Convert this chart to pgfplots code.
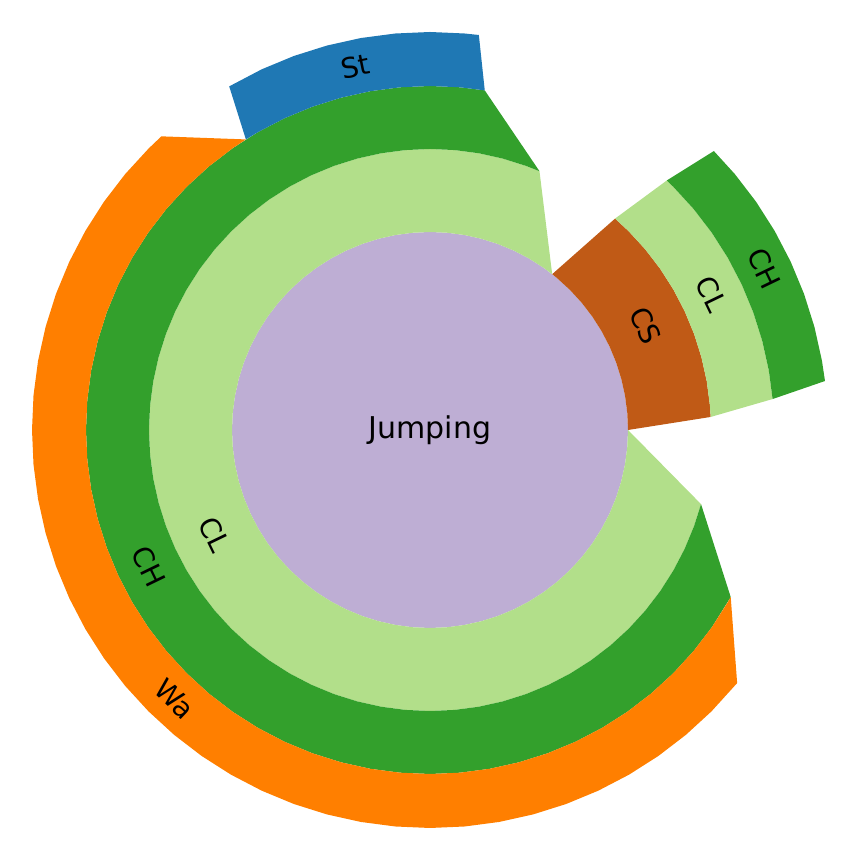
\documentclass[border=0pt]{standalone}
\usepackage{fontspec}
\setmainfont{DejaVu Sans}
\usepackage{pgfplots}
\pgfplotsset{compat=1.18}
\usepgfplotslibrary{polar}
\definecolor{cPurple}{HTML}{BEAED4}
\definecolor{cBrown}{HTML}{C05A16}
\definecolor{cLight}{HTML}{B2DF8A}
\definecolor{cGreen}{HTML}{33A02C}
\definecolor{cOrange}{HTML}{FF7F00}
\definecolor{cBlue}{HTML}{1F78B4}
\begin{document}
\begin{tikzpicture}
\begin{axis}[scale only axis, width=430pt, height=430pt,
  xmin=-430, xmax=430, ymin=-430, ymax=430,
  ticks=none, axis line style={draw=none}]
% level 0: Jumping
\addplot[data cs=polar, draw=none, fill=cPurple] coordinates {
(0,198)(5,198)(10,198)(15,198)(20,198)(25,198)(30,198)(35,198)(40,198)(45,198)(50,198)(55,198)(60,198)(65,198)(70,198)(75,198)(80,198)(85,198)(90,198)(95,198)(100,198)(105,198)(110,198)(115,198)(120,198)(125,198)(130,198)(135,198)(140,198)(145,198)(150,198)(155,198)(160,198)(165,198)(170,198)(175,198)(180,198)(185,198)(190,198)(195,198)(200,198)(205,198)(210,198)(215,198)(220,198)(225,198)(230,198)(235,198)(240,198)(245,198)(250,198)(255,198)(260,198)(265,198)(270,198)(275,198)(280,198)(285,198)(290,198)(295,198)(300,198)(305,198)(310,198)(315,198)(320,198)(325,198)(330,198)(335,198)(340,198)(345,198)(350,198)(355,198)};
% level 1: CS
\addplot[data cs=polar, draw=none, fill=cBrown] coordinates {
(0,198)(5,198)(10,198)(15,198)(20,198)(25,198)(30,198)(35,198)(40,198)(45,198)(50,198)(51.9,198)
(48.8,281)(45,281)(40,281)(35,281)(30,281)(25,281)(20,281)(15,281)(10,281)(5,281)(2.66,281)};
% level 2: CL (under CS)
\addplot[data cs=polar, draw=none, fill=cLight] coordinates {
(2.66,281)(5,281)(10,281)(15,281)(20,281)(25,281)(30,281)(35,281)(40,281)(45,281)(48.8,281)
(46.5,344)(45,344)(40,344)(35,344)(30,344)(25,344)(20,344)(15,344)(10,344)(5.16,344)};
% level 3: CH (under CS/CL)
\addplot[data cs=polar, draw=none, fill=cGreen] coordinates {
(5.16,344)(10,344)(15,344)(20,344)(25,344)(30,344)(35,344)(40,344)(45,344)(46.5,344)
(44.5,398)(40,398)(35,398)(30,398)(25,398)(20,398)(15,398)(10,398)(7.07,398)};
% level 1: CL
\addplot[data cs=polar, draw=none, fill=cLight] coordinates {
(51.9,198)(55,198)(60,198)(65,198)(70,198)(75,198)(80,198)(85,198)(90,198)(95,198)(100,198)(105,198)(110,198)(115,198)(120,198)(125,198)(130,198)(135,198)(140,198)(145,198)(150,198)(155,198)(160,198)(165,198)(170,198)(175,198)(180,198)(185,198)(190,198)(195,198)(200,198)(205,198)(210,198)(215,198)(220,198)(225,198)(230,198)(235,198)(240,198)(245,198)(250,198)(255,198)(260,198)(265,198)(270,198)(275,198)(280,198)(285,198)(290,198)(295,198)(300,198)(305,198)(310,198)(315,198)(320,198)(325,198)(330,198)(335,198)(340,198)(345,198)(350,198)(355,198)(360,198)
(344.7,281)(340,281)(335,281)(330,281)(325,281)(320,281)(315,281)(310,281)(305,281)(300,281)(295,281)(290,281)(285,281)(280,281)(275,281)(270,281)(265,281)(260,281)(255,281)(250,281)(245,281)(240,281)(235,281)(230,281)(225,281)(220,281)(215,281)(210,281)(205,281)(200,281)(195,281)(190,281)(185,281)(180,281)(175,281)(170,281)(165,281)(160,281)(155,281)(150,281)(145,281)(140,281)(135,281)(130,281)(125,281)(120,281)(115,281)(110,281)(105,281)(100,281)(95,281)(90,281)(85,281)(80,281)(75,281)(70,281)(67.07,281)};
% level 2: CH
\addplot[data cs=polar, draw=none, fill=cGreen] coordinates {
(67.07,281)(70,281)(75,281)(80,281)(85,281)(90,281)(95,281)(100,281)(105,281)(110,281)(115,281)(120,281)(125,281)(130,281)(135,281)(140,281)(145,281)(150,281)(155,281)(160,281)(165,281)(170,281)(175,281)(180,281)(185,281)(190,281)(195,281)(200,281)(205,281)(210,281)(215,281)(220,281)(225,281)(230,281)(235,281)(240,281)(245,281)(250,281)(255,281)(260,281)(265,281)(270,281)(275,281)(280,281)(285,281)(290,281)(295,281)(300,281)(305,281)(310,281)(315,281)(320,281)(325,281)(330,281)(335,281)(340,281)(344.7,281)
(330.95,344)(325,344)(320,344)(315,344)(310,344)(305,344)(300,344)(295,344)(290,344)(285,344)(280,344)(275,344)(270,344)(265,344)(260,344)(255,344)(250,344)(245,344)(240,344)(235,344)(230,344)(225,344)(220,344)(215,344)(210,344)(205,344)(200,344)(195,344)(190,344)(185,344)(180,344)(175,344)(170,344)(165,344)(160,344)(155,344)(150,344)(145,344)(140,344)(135,344)(130,344)(125,344)(120,344)(115,344)(110,344)(105,344)(100,344)(95,344)(90,344)(85,344)(80.84,344)};
% level 3: St
\addplot[data cs=polar, draw=none, fill=cBlue] coordinates {
(80.84,344)(85,344)(90,344)(95,344)(100,344)(105,344)(110,344)(115,344)(120,344)(122.36,344)
(120.3,398)(115,398)(110,398)(105,398)(100,398)(95,398)(90,398)(85,398)(82.95,398)};
% level 3: Wa
\addplot[data cs=polar, draw=none, fill=cOrange] coordinates {
(122.36,344)(125,344)(130,344)(135,344)(140,344)(145,344)(150,344)(155,344)(160,344)(165,344)(170,344)(175,344)(180,344)(185,344)(190,344)(195,344)(200,344)(205,344)(210,344)(215,344)(220,344)(225,344)(230,344)(235,344)(240,344)(245,344)(250,344)(255,344)(260,344)(265,344)(270,344)(275,344)(280,344)(285,344)(290,344)(295,344)(300,344)(305,344)(310,344)(315,344)(320,344)(325,344)(330,344)(330.95,344)
(320.51,398)(315,398)(310,398)(305,398)(300,398)(295,398)(290,398)(285,398)(280,398)(275,398)(270,398)(265,398)(260,398)(255,398)(250,398)(245,398)(240,398)(235,398)(230,398)(225,398)(220,398)(215,398)(210,398)(205,398)(200,398)(195,398)(190,398)(185,398)(180,398)(175,398)(170,398)(165,398)(160,398)(155,398)(150,398)(145,398)(140,398)(135,398)(132.45,398)};
% labels
\addplot[data cs=polar, draw=none, mark=none, nodes near coords,
  point meta=explicit symbolic,
  visualization depends on={\thisrow{rot}\as\rot},
  nodes near coords style={anchor=center, rotate=\rot, text=black,
    font=\fontsize{14}{16}\selectfont}]
  table[x=a, y=r, meta=lab] {
a r rot lab
101.6 371 11.6 St
226.5 371 -43.5 Wa
205.9 312.5 -64.1 CH
205.9 239.5 -64.1 CL
25.8 239.5 -64.2 CS
25.8 312.5 -64.2 CL
25.8 371 -64.2 CH
};
\addplot[data cs=polar, draw=none, mark=none, nodes near coords,
  point meta=explicit symbolic,
  nodes near coords style={anchor=center, text=black,
    font=\fontsize{15}{18}\selectfont}]
  table[x=a, y=r, meta=lab] {
a r lab
90 0 Jumping
};
\end{axis}
\end{tikzpicture}
\end{document}
